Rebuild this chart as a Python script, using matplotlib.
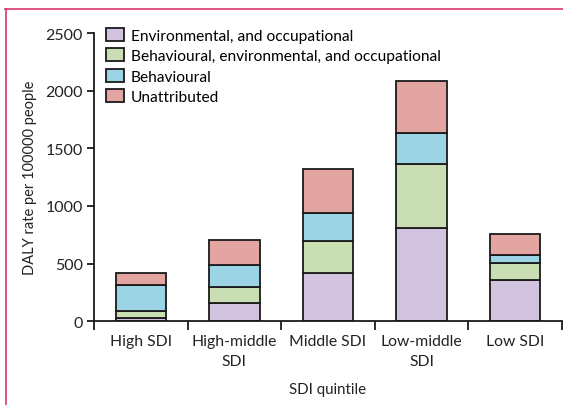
import numpy as np
import matplotlib
matplotlib.use("Agg")
import matplotlib.pyplot as plt
from matplotlib.lines import Line2D
from matplotlib.patches import Patch

plt.rcParams['font.family'] = ['Lato', 'DejaVu Sans']

# data (DALY rate per 100000)
quintiles = ["High SDI", "High-middle\nSDI", "Middle SDI", "Low-middle\nSDI", "Low SDI"]
env_occ = [26, 161, 421, 809, 361]
beh_env_occ = [66, 139, 278, 555, 147]
behavioural = [220, 191, 243, 269, 70]
unattributed = [107, 214, 376, 451, 176]

series = [
    ("Environmental, and occupational", env_occ, "#d2c3df"),
    ("Behavioural, environmental, and occupational", beh_env_occ, "#c9dfb3"),
    ("Behavioural", behavioural, "#9bd4e4"),
    ("Unattributed", unattributed, "#e3a5a2"),
]

fig = plt.figure(figsize=(5.63, 4.06), dpi=100)
ax = fig.add_axes([94/563, 1-322.3/406, 468/563, 288.3/406])

x = np.arange(len(quintiles)) + 0.5
bottom = np.zeros(len(quintiles))
handles = []
for name, vals, col in series:
    ax.bar(x, vals, width=0.54, bottom=bottom, color=col, edgecolor="#1a1a1a", linewidth=1.3)
    bottom += np.array(vals)
    handles.append(Patch(facecolor=col, edgecolor="#1a1a1a", linewidth=1.3, label=name))

ax.set_xlim(0, 5)
ax.set_ylim(0, 2500)
ax.set_yticks([0, 500, 1000, 1500, 2000, 2500])
ax.spines['top'].set_visible(False)
ax.spines['right'].set_visible(False)
ax.spines['left'].set_bounds(0, 2500)
for s in ['left', 'bottom']:
    ax.spines[s].set_linewidth(1.3)
    ax.spines[s].set_color("#1a1a1a")

ax.set_xticks(x)
ax.set_xticklabels(quintiles, fontsize=11.3, color="#222222", linespacing=1.6)
ax.tick_params(axis='x', which='major', length=0, pad=9)
ax.set_xticks(np.arange(0, 6), minor=True)
ax.tick_params(axis='x', which='minor', length=6.5, width=1.3, direction='out', color="#1a1a1a")
ax.tick_params(axis='y', length=5, width=1.3, labelsize=11.5, colors="#1a1a1a", pad=3)
for lab in ax.get_yticklabels():
    lab.set_color("#222222")

ax.set_ylabel("DALY rate per 100000 people", fontsize=10.5, color="#222222", labelpad=6)
ax.set_xlabel("SDI quintile", fontsize=10.8, color="#222222", labelpad=10)

ax.legend(handles=handles, loc="upper left", bbox_to_anchor=(0.005, 1.05), frameon=False,
          fontsize=11.2, handlelength=1.15, handleheight=0.9, handletextpad=0.45,
          labelspacing=0.36, borderaxespad=0.2)

# pink frame (top and left)
pink = "#d8386a"
fig.add_artist(Line2D([5/563, 1], [1-10/406, 1-10/406], color=pink, linewidth=1.2, transform=fig.transFigure))
fig.add_artist(Line2D([6/563, 6/563], [0, 1-10/406], color=pink, linewidth=1.2, transform=fig.transFigure))

fig.savefig("out.png", dpi=100)
